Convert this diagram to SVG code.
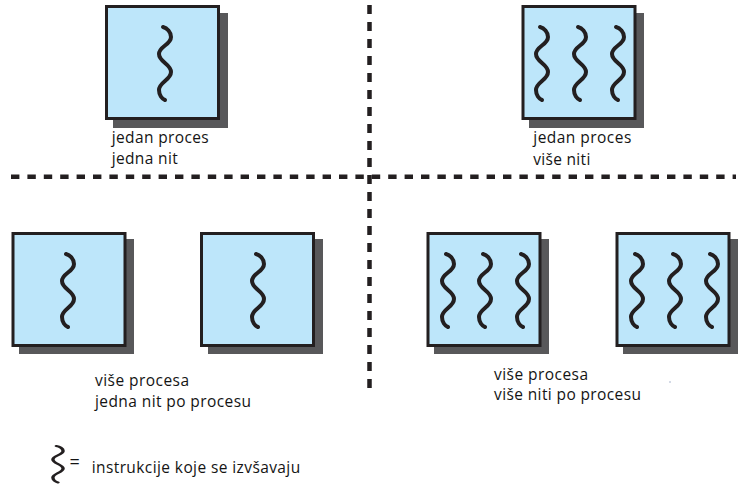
<svg xmlns="http://www.w3.org/2000/svg" xmlns:xlink="http://www.w3.org/1999/xlink" width="752" height="499" viewBox="0 0 752 499">
<style>
.shadow{fill:#58585a}
.box{fill:#bde6fa;stroke:#231f20;stroke-width:3}
.wave{fill:none;stroke:#231f20;stroke-width:4;stroke-linecap:round;stroke-linejoin:round}
.lbl{font-family:"Open Sans","Liberation Sans",sans-serif;font-size:15.5px;fill:#141414}
.eq{font-family:"Open Sans","Liberation Sans",sans-serif;font-size:18px;fill:#141414}
.div{stroke:#231f20;stroke-width:4.5;fill:none}
</style>
<defs>
<path id="w" class="wave" d="M -2,0 C 2,1 6,5 6,10 C 6,18 -6,19 -6,27 C -6,35 6,37 6,45 C 6,53 -6,55 -6,63 C -6,68 -3,72 0,73"/>
</defs>
<g id="connectors">
<line class="div" x1="11" y1="176.7" x2="736" y2="176.7" stroke-dasharray="8.4 8"/>
<line class="div" x1="369.5" y1="5" x2="369.5" y2="395" stroke-dasharray="9 8"/>
</g>
<g id="box1">
<rect class="shadow" x="113" y="13" width="115" height="115"/>
<rect class="box" x="106.5" y="6.5" width="112" height="112"/>
<use href="#w" x="165" y="27"/>
</g>
<g id="box2">
<rect class="shadow" x="529" y="13" width="115" height="115"/>
<rect class="box" x="523" y="6.5" width="112" height="112"/>
<use href="#w" x="542" y="27"/>
<use href="#w" x="580" y="27"/>
<use href="#w" x="618" y="27"/>
</g>
<g id="box3">
<rect class="shadow" x="19" y="239" width="115" height="115"/>
<rect class="box" x="13" y="233.5" width="112" height="112"/>
<use href="#w" x="68" y="254"/>
</g>
<g id="box4">
<rect class="shadow" x="208" y="239" width="115" height="115"/>
<rect class="box" x="201.5" y="233.5" width="112" height="112"/>
<use href="#w" x="258" y="254"/>
</g>
<g id="box5">
<rect class="shadow" x="434" y="239" width="115" height="115"/>
<rect class="box" x="428" y="233.5" width="112" height="112"/>
<use href="#w" x="448" y="254"/>
<use href="#w" x="485" y="254"/>
<use href="#w" x="523" y="254"/>
</g>
<g id="box6">
<rect class="shadow" x="623" y="239" width="115" height="115"/>
<rect class="box" x="617" y="233.5" width="112" height="112"/>
<use href="#w" x="637" y="254"/>
<use href="#w" x="675" y="254"/>
<use href="#w" x="712" y="254"/>
</g>
<g id="labels">
<text class="lbl" x="111.7" y="142.7" textLength="97">jedan proces</text>
<text class="lbl" x="111.7" y="164.3" textLength="66">jedna nit</text>
<text class="lbl" x="533.3" y="143" textLength="98">jedan proces</text>
<text class="lbl" x="533.3" y="165" textLength="57">više niti</text>
<text class="lbl" x="95" y="386" textLength="94">više procesa</text>
<text class="lbl" x="95" y="406.7" textLength="156">jedna nit po procesu</text>
<text class="lbl" x="494" y="380" textLength="94">više procesa</text>
<text class="lbl" x="494" y="400" textLength="147">više niti po procesu</text>
</g>
<g id="legend">
<g transform="translate(58,446) scale(0.85,0.5)"><use href="#w" style="stroke-width:5"/></g>
<text class="eq" x="69.5" y="468">=</text>
<text class="lbl" x="91.7" y="473.3" textLength="208.5">instrukcije koje se izvšavaju</text>
</g>
<circle cx="670" cy="382" r="0.7" fill="#8899bb"/>
</svg>
